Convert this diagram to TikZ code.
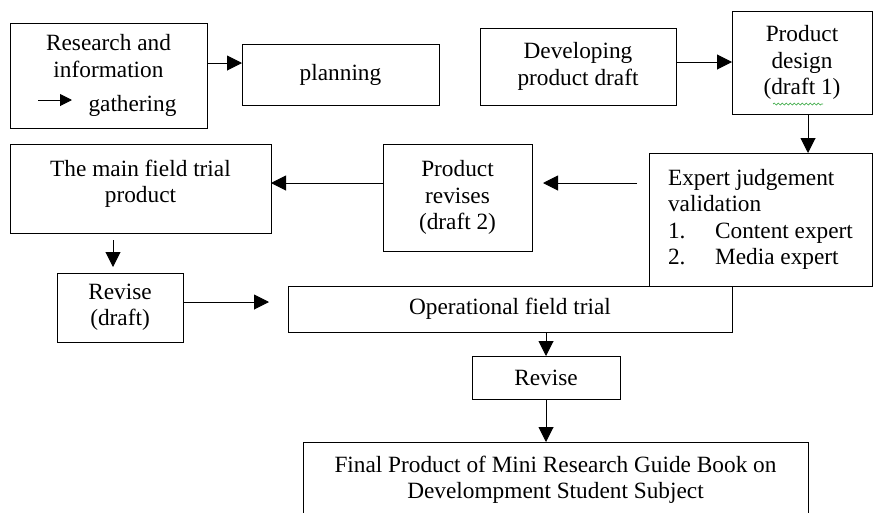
\documentclass[tikz,border=0pt]{standalone}
\usepackage{fontspec}
\setmainfont{Liberation Serif}
\usetikzlibrary{arrows.meta,decorations.pathmorphing}
\definecolor{spell}{RGB}{60,170,70}
\begin{document}
\begin{tikzpicture}[x=1pt,y=-1pt,
  every node/.style={font=\fontsize{23.3}{26.5}\selectfont},
  box/.style={draw, line width=1pt, inner sep=0pt, outer sep=0pt, align=center},
  arr/.style={line width=1pt, -{Triangle[length=15pt,width=15pt]}},
  arrs/.style={line width=1pt, -{Triangle[length=12pt,width=12pt]}}]
\useasboundingbox (0,0) rectangle (873,512);
\clip (0,0) rectangle (873,512);
\node[box, minimum width=197pt, minimum height=105pt] (box1) at (108.5,75.5)
  {Research and\\information\\[8pt]\hspace*{48pt}gathering};
\node[box, minimum width=197pt, minimum height=61pt] (plan) at (340.5,74.5) {planning};
\node[box, minimum width=196pt, minimum height=77pt] (dev) at (578,66.5) {Developing\\product draft};
\node[box, minimum width=140pt, minimum height=103pt] (pd) at (802,62.5) {Product\\design\\(draft 1)};
\node[box, minimum width=223pt, minimum height=133pt, align=left] (expert) at (760.5,219.5)
  {Expert judgement\\validation\\\makebox[47pt][l]{1.}Content expert\\\makebox[47pt][l]{2.}Media expert};
\node[box, minimum width=149pt, minimum height=107pt] (revs) at (457.5,197.5) {Product\\revises\\(draft 2)};
\node[box, minimum width=261pt, minimum height=89pt, text depth=14pt] (main) at (140.5,188.5) {The main field trial\\product};
\node[box, minimum width=126pt, minimum height=69pt] (revd) at (120,307.5) {Revise\\(draft)};
\node[box, minimum width=444pt, minimum height=46pt] (oper) at (510,309) {Operational field trial};
\node[box, minimum width=148pt, minimum height=43pt] (rev) at (546,377.5) {Revise};
\node[box, minimum width=505pt, minimum height=76pt] (final) at (555.5,480)
  {Final Product of Mini Research Guide Book on\\Develompment Student Subject};
\coordinate (sa) at (38,100);
\coordinate (sb) at (72,100);
\draw[arrs] (sa) -- (sb);
\coordinate (wa) at (773,104);
\coordinate (wb) at (823,104);
\draw[spell, line width=0.7pt, decorate, decoration={snake, amplitude=1pt, segment length=4pt}] (wa) -- (wb);
\draw[arr] (box1.east |- 0,63) -- (plan.west |- 0,63);
\draw[arr] (dev.east |- 0,62) -- (pd.west |- 0,62);
\draw[arr] (pd.south -| 808,0) -- (expert.north -| 808,0);
\draw[arr, shorten <=12pt, shorten >=11pt] (expert.west |- 0,183) -- (revs.east |- 0,183);
\draw[arr] (revs.west |- 0,183) -- (main.east |- 0,183);
\draw[arr, shorten <=7pt, shorten >=6pt] (main.south -| 113,0) -- (revd.north -| 113,0);
\draw[arr, shorten >=19pt] (revd.east |- 0,302) -- (oper.west |- 0,302);
\draw[arr] (oper.south -| 546,0) -- (rev.north -| 546,0);
\draw[arr] (rev.south) -- (final.north -| rev.south);
\end{tikzpicture}
\end{document}
